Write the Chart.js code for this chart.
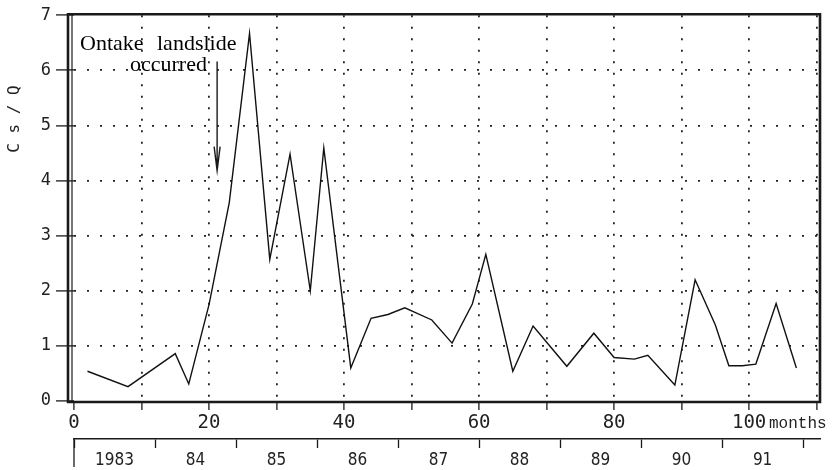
<!DOCTYPE html>
<html><head><meta charset="utf-8">
<script src="https://cdn.jsdelivr.net/npm/chart.js@4"></script>
<style>html,body{margin:0;padding:0;background:#fff;}canvas{display:block;}</style>
</head><body>
<canvas id="c" width="835" height="470"></canvas>
<script>
// ---- data ----
const months = [2, 8, 15, 17, 20, 23, 26, 29, 32, 35, 37, 41, 44, 46.5, 49, 53, 56, 59, 61, 65, 68, 73, 77, 80, 83, 85, 89, 92, 95, 97, 99, 101, 104, 107];
const csq    = [0.54, 0.26, 0.86, 0.31, 1.75, 3.6, 6.67, 2.57, 4.48, 2.0, 4.59, 0.6, 1.5, 1.57, 1.69, 1.47, 1.05, 1.76, 2.66, 0.54, 1.36, 0.63, 1.23, 0.79, 0.76, 0.83, 0.29, 2.2, 1.38, 0.64, 0.64, 0.67, 1.77, 0.6];
const monthTicks = [0, 10, 20, 30, 40, 50, 60, 70, 80, 90, 100, 110];
const monthTickLabels = [0, 20, 40, 60, 80, 100];
const yearLabels = ['1983', '84', '85', '86', '87', '88', '89', '90', '91'];
const yearStartMonths = [0, 12, 24, 36, 48, 60, 72, 84, 96, 108];
const yTitle = 'C s / Q';
const unitLabel = 'months';
const noteWords = ['Ontake', 'landslide'];
const noteLine2 = 'occurred';
const landslideMonth = 21.2;

const INK = '#1a1a1a';
const MONO = '"DejaVu Sans Mono", monospace';
const TRANSPARENT = 'rgba(0,0,0,0)';

const yearCenters = yearLabels.map((_, i) => yearStartMonths[i] + 6);

const decorPlugin = {
  id: 'decor',
  afterDraw(chart) {
    const {ctx, chartArea: a, scales} = chart;
    const xs = scales.x, ys = scales.y, x2 = scales.x2;
    ctx.save();
    ctx.strokeStyle = INK;
    ctx.lineCap = 'butt';
    // outer frame
    ctx.lineWidth = 2.6;
    ctx.beginPath();
    ctx.moveTo(a.left - 6, a.top - 1);
    ctx.lineTo(a.right, a.top - 1);
    ctx.lineTo(a.right, a.bottom + 1);
    ctx.lineTo(a.left - 6, a.bottom + 1);
    ctx.closePath();
    ctx.stroke();
    // inner thin left line
    ctx.lineWidth = 1.2;
    ctx.beginPath();
    ctx.moveTo(a.left - 2, a.top - 1);
    ctx.lineTo(a.left - 2, a.bottom + 1);
    ctx.stroke();
    // long first tick of year axis
    ctx.lineWidth = 1.3;
    const x0 = x2.getPixelForValue(yearStartMonths[0]);
    ctx.beginPath();
    ctx.moveTo(x0, x2.top);
    ctx.lineTo(x0, x2.top + 28);
    ctx.stroke();

    // y title
    ctx.fillStyle = '#222';
    ctx.font = '16px ' + MONO;
    ctx.textAlign = 'center';
    ctx.textBaseline = 'middle';
    ctx.save();
    ctx.translate(15, 119);
    ctx.rotate(-Math.PI / 2);
    ctx.fillText(yTitle, 0, 0);
    ctx.restore();

    // unit label
    ctx.font = '16px "Liberation Mono", monospace';
    ctx.textAlign = 'left';
    ctx.textBaseline = 'alphabetic';
    ctx.fillText(unitLabel, 769, 428);

    // annotation
    ctx.fillStyle = '#000';
    ctx.font = '22px "Liberation Serif", serif';
    ctx.fillText(noteWords[0], 80, 50);
    ctx.fillText(noteWords[1], 157, 50);
    ctx.fillText(noteLine2, 130, 71);

    // arrow
    const ax = xs.getPixelForValue(landslideMonth);
    const yTop = ys.getPixelForValue(6.16);
    const yTip = ys.getPixelForValue(4.18);
    ctx.lineWidth = 1.4;
    ctx.beginPath();
    ctx.moveTo(ax, yTop);
    ctx.lineTo(ax, yTip);
    ctx.moveTo(ax - 3, yTip - 24);
    ctx.lineTo(ax, yTip);
    ctx.lineTo(ax + 3, yTip - 24);
    ctx.stroke();
    ctx.restore();
  }
};

new Chart(document.getElementById('c'), {
  type: 'line',
  data: {
    datasets: [{
      data: months.map((m, i) => ({x: m, y: csq[i]})),
      borderColor: '#111',
      borderWidth: 1.4,
      pointRadius: 0,
      tension: 0,
      fill: false
    }]
  },
  options: {
    responsive: false,
    animation: false,
    devicePixelRatio: 1,
    layout: {padding: {left: 0, top: 11, right: 15, bottom: 0}},
    plugins: {legend: {display: false}, tooltip: {enabled: false}},
    scales: {
      x: {
        type: 'linear',
        position: 'bottom',
        min: 0,
        max: 110.5,
        afterBuildTicks: s => { s.ticks = monthTicks.map(v => ({value: v})); },
        afterFit: s => { s.height = 38; },
        border: {display: false, dash: [2, 9.5]},
        grid: {
          color: c => (c.tick && (c.tick.value === 0)) ? TRANSPARENT : '#222',
          lineWidth: 1.8,
          tickBorderDash: [],
          tickColor: INK,
          tickWidth: 1.3,
          tickLength: 9,
          drawTicks: true
        },
        ticks: {
          autoSkip: false,
          maxRotation: 0,
          padding: 2,
          color: '#222',
          font: {family: MONO, size: 19},
          callback: v => monthTickLabels.includes(v) ? String(v) : ''
        }
      },
      x2: {
        type: 'linear',
        position: 'bottom',
        min: 0,
        max: 110.5,
        afterBuildTicks: s => {
          const t = yearStartMonths.map(v => ({value: v})).concat(yearCenters.map(v => ({value: v})));
          t.sort((p, q) => p.value - q.value);
          s.ticks = t;
        },
        afterFit: s => { s.height = 31; },
        border: {display: true, color: INK, width: 1.5},
        grid: {
          drawOnChartArea: false,
          drawTicks: true,
          tickLength: 9,
          tickWidth: 1.3,
          tickBorderDash: [],
          tickColor: c => (c.tick && yearStartMonths.includes(c.tick.value)) ? INK : TRANSPARENT,
          color: TRANSPARENT
        },
        ticks: {
          autoSkip: false,
          maxRotation: 0,
          padding: 2,
          color: '#222',
          font: {family: '"Liberation Sans Narrow", "DejaVu Sans Condensed", sans-serif', size: 17},
          callback: v => { const i = yearCenters.indexOf(v); return i >= 0 ? yearLabels[i] : ''; }
        }
      },
      y: {
        type: 'linear',
        position: 'left',
        min: 0,
        max: 7,
        afterFit: s => { s.width = 74; },
        border: {display: false, dash: [2, 11]},
        grid: {
          color: c => (c.tick && (c.tick.value === 0 || c.tick.value === 7)) ? TRANSPARENT : '#222',
          lineWidth: 1.8,
          tickBorderDash: [],
          tickColor: INK,
          tickWidth: 1.3,
          tickLength: 18,
          drawTicks: true
        },
        ticks: {
          stepSize: 1,
          padding: 5,
          color: '#222',
          font: {family: MONO, size: 17}
        }
      }
    }
  },
  plugins: [decorPlugin]
});
</script>
</body></html>
